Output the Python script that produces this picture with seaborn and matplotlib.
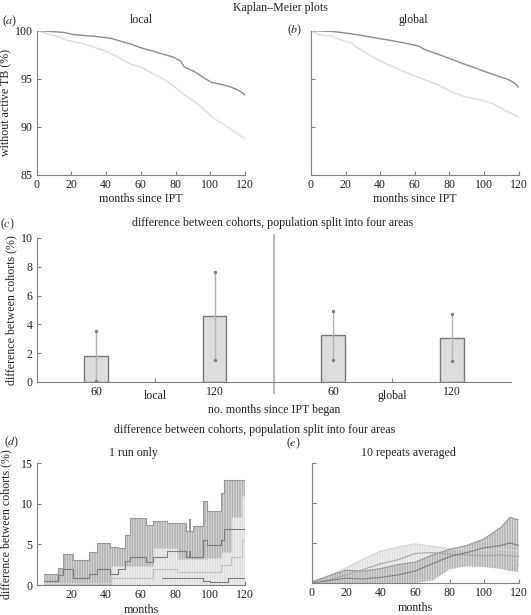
import matplotlib
matplotlib.use("Agg")
import matplotlib.pyplot as plt
import seaborn as sns

# ---- (a)/(b) Kaplan-Meier curves, % without active TB
km_local_dark_t = [0, 15.5, 22, 33, 42.5, 48, 54, 60, 66, 73.5, 79, 83, 85, 91, 97, 100.6, 106, 112, 116, 120]
km_local_dark = [100, 99.8, 99.55, 99.4, 99.2, 98.9, 98.6, 98.2, 97.9, 97.5, 97.2, 96.8, 96.2, 95.7, 95.0, 94.6, 94.4, 94.1, 93.8, 93.3]
km_local_light_t = [0, 6, 11.6, 17, 25, 31, 39, 44, 50, 54, 60, 66, 73.5, 79, 85, 91, 97, 101.5, 106, 112, 116, 120]
km_local_light = [100, 99.7, 99.4, 99.0, 98.7, 98.4, 97.9, 97.5, 96.9, 96.5, 96.2, 95.6, 94.9, 94.2, 93.3, 92.6, 91.7, 90.9, 90.4, 89.7, 89.2, 88.7]
km_global_dark_t = [0, 12, 19.7, 27, 35, 45, 54, 62, 66, 74, 80, 87, 95, 101, 109, 114, 118, 120]
km_global_dark = [100, 99.9, 99.75, 99.55, 99.3, 99.0, 98.7, 98.4, 98.0, 97.5, 97.1, 96.6, 96.1, 95.7, 95.2, 94.9, 94.5, 94.1]
km_global_light_t = [0, 5, 12, 17.8, 23.5, 27, 35, 45, 54, 64, 74, 81.5, 89, 97, 105, 112, 120]
km_global_light = [100, 99.55, 99.4, 99.0, 98.7, 98.2, 97.3, 96.4, 95.7, 95.0, 94.3, 93.6, 93.1, 92.8, 92.4, 91.7, 91.0]

# ---- (c) bar chart
bar_pos = [1, 3, 5, 7]
bar_vals = [1.8, 4.6, 3.25, 3.05]
bar_lo = [0.1, 1.5, 1.55, 1.45]
bar_hi = [3.55, 7.65, 4.95, 4.7]
c_tick_pos = [1, 2, 3, 5, 6, 7]
c_tick_labels = ["60", "", "120", "60", "", "120"]

# ---- (d) 1 run only (step data: value holds until next month listed)
d1_t = [4, 12.5, 15, 21, 30, 34.5, 42, 47, 51, 54, 63, 67, 75, 86, 87.5, 88.5, 90, 96, 98, 106, 108, 120]
d1_mean = [0.5, 1.2, 2.0, 0.9, 1.4, 2.0, 1.4, 2.0, 3.0, 3.5, 2.8, 3.4, 4.2, 3.5, 4.2, 3.5, 3.5, 5.5, 4.9, 5.5, 6.9, 6.9]
d1_hi = [1.36, 2.06, 3.8, 3.1, 4.1, 5.15, 4.7, 4.5, 6.2, 8.2, 7.4, 7.9, 7.6, 6.6, 8.1, 6.6, 7.2, 10.3, 9.05, 11.3, 12.96, 12.96]
d1_lo = [0, 0, 0, 0, 0, 0, 0, 0, 0, 0, 0, 0, 0, 0, 0, 0, 0, 3.0, 3.3, 3.5, 4.1, 4.1]
d2_t = [4, 43, 67, 81, 98, 106, 112, 118, 120]
d2_mean = [0.1, 0.8, 2.0, 1.55, 1.55, 2.5, 3.5, 5.5, 5.5]
d2_hi = [0.3, 2.3, 4.6, 3.2, 3.3, 4.1, 8.4, 11.0, 11.0]
d2_lo = [0, 0, 0, 0, 0, 0, 0, 0, 0]
d3_t = [72, 96, 100, 110, 120]
d3_mean = [0.8, 0.5, 0.4, 0.9, 0.9]

# ---- (e) 10 repeats averaged
e_t = [0, 10, 20, 30, 40, 50, 60, 70, 80, 90, 100, 110, 115, 120]
e1_mean = [0, 0.3, 0.6, 0.5, 0.7, 1.0, 1.5, 2.4, 3.3, 3.8, 4.4, 4.7, 5.0, 4.7]
e1_hi = [0.1, 0.9, 1.6, 1.5, 1.8, 2.3, 2.6, 3.5, 4.2, 4.7, 5.5, 7.0, 8.2, 7.9]
e1_lo = [0, 0, 0, 0, 0, 0, 0, 0.3, 1.7, 2.1, 2.0, 1.75, 1.5, 1.4]
e2_mean = [0, 0.4, 1.0, 1.7, 2.4, 2.9, 3.7, 3.8, 3.6, 3.5, 3.4, 3.5, 3.4, 3.3]
e2_hi = [0.2, 0.9, 1.9, 3.0, 4.0, 4.5, 4.9, 4.6, 4.3, 4.2, 4.1, 4.2, 4.1, 4.0]
e2_lo = [0, 0, 0, 0, 0, 0, 0.4, 1.6, 2.4, 2.6, 2.6, 2.7, 2.6, 2.5]
e3_mean = [0, 0.2, 0.5, 0.8, 1.1, 1.4, 1.7, 2.1, 2.4, 2.6, 2.6, 2.6, 2.5, 2.4]

DARK = "#8c8c8c"
LIGHT = "#dcdcdc"
AXC = "#808080"
TXT = "#222222"
HATCH = "|" * 10

sns.set_style("ticks")
plt.rcParams["font.family"] = ["Liberation Serif", "DejaVu Serif"]
plt.rcParams["mathtext.fontset"] = "stix"
plt.rcParams["font.size"] = 8.6
plt.rcParams["hatch.linewidth"] = 0.5
plt.rcParams["axes.edgecolor"] = AXC
plt.rcParams["axes.linewidth"] = 0.8
plt.rcParams["text.color"] = TXT
plt.rcParams["axes.labelcolor"] = TXT

W, H = 531, 615
fig = plt.figure(figsize=(W / 100, H / 100), dpi=100)


def box(x0, y0, x1, y1):
    # pixel box (top-left origin) -> figure fraction rect
    return [x0 / W, 1 - y1 / H, (x1 - x0) / W, (y1 - y0) / H]


def ftext(x, y, s, **kw):
    fig.text(x / W, 1 - y / H, s, ha="center", va="center", **kw)


def style(ax):
    sns.despine(ax=ax)
    ax.tick_params(direction="in", length=3, width=0.8, color=AXC,
                   labelcolor=TXT, labelsize=8.6, pad=3)


ax_a = fig.add_axes(box(36.7, 30.5, 245, 174.5))
ax_b = fig.add_axes(box(311, 30.5, 518.5, 174.5))
ax_c = fig.add_axes(box(36.7, 238, 511, 382))
ax_d = fig.add_axes(box(36.7, 463, 245, 585))
ax_e = fig.add_axes(box(311.7, 463, 518.5, 583))

# (a) and (b)
for ax, dt, dv, lt, lv in [(ax_a, km_local_dark_t, km_local_dark, km_local_light_t, km_local_light),
                           (ax_b, km_global_dark_t, km_global_dark, km_global_light_t, km_global_light)]:
    sns.lineplot(x=lt, y=lv, ax=ax, color=LIGHT, linewidth=1.0)
    sns.lineplot(x=dt, y=dv, ax=ax, color=DARK, linewidth=1.0)
    ax.set_xlim(0, 120)
    ax.set_ylim(85, 100)
    ax.set_xticks(range(0, 121, 20))
    ax.set_yticks([85, 90, 95, 100])
    style(ax)
    ax.set_xlabel("months since IPT", labelpad=2)
ax_a.set_ylabel("without active TB (%)", labelpad=2)
ax_b.set_yticklabels([])
ax_b.set_ylabel("")

# (c)
ax_c.bar(bar_pos, bar_vals, width=0.4, color="#dddddd", edgecolor="#7a7a7a", linewidth=1.0, zorder=2)
ax_c.vlines(bar_pos, bar_lo, bar_hi, color="#b4b4b4", linewidth=1.0, zorder=3)
ax_c.scatter(bar_pos + bar_pos, bar_lo + bar_hi, s=6, color="#808080", zorder=4, linewidths=0)
ax_c.plot([4, 4], [-0.75, 10.2], color="#bdbdbd", linewidth=1.6, clip_on=False)
ax_c.set_xlim(0, 8)
ax_c.set_ylim(0, 10)
ax_c.set_yticks([0, 2, 4, 6, 8, 10])
ax_c.set_xticks(c_tick_pos)
ax_c.set_xticklabels(c_tick_labels)
style(ax_c)
ax_c.set_ylabel("difference between cohorts (%)", labelpad=2)
ax_c.set_xlabel("no. months since IPT began", labelpad=4)
ax_c.text(2, -0.095, "local", transform=ax_c.get_xaxis_transform(), ha="center", va="center", fontsize=8.6)
ax_c.text(6, -0.095, "global", transform=ax_c.get_xaxis_transform(), ha="center", va="center", fontsize=8.6)

# (d)
ax_d.fill_between(d1_t, d1_lo, d1_hi, step="post", facecolor="#dedede", edgecolor="#9a9a9a", hatch=HATCH, linewidth=0)
sns.lineplot(x=d1_t, y=d1_hi, ax=ax_d, color="#9a9a9a", linewidth=0.8, drawstyle="steps-post")
ax_d.fill_between(d2_t, d2_lo, d2_hi, step="post", facecolor="#f3f3f3", edgecolor="#d2d2d2", hatch=HATCH, linewidth=0)
sns.lineplot(x=d2_t, y=d2_hi, ax=ax_d, color="#d2d2d2", linewidth=0.8, drawstyle="steps-post")
sns.lineplot(x=d1_t, y=d1_mean, ax=ax_d, color="#808080", linewidth=0.8, drawstyle="steps-post")
sns.lineplot(x=d2_t, y=d2_mean, ax=ax_d, color="#c4c4c4", linewidth=0.8, drawstyle="steps-post")
sns.lineplot(x=d3_t, y=d3_mean, ax=ax_d, color="#808080", linewidth=0.8, drawstyle="steps-post")
ax_d.set_xlim(0, 120)
ax_d.set_ylim(0, 15)
ax_d.set_xticks(range(0, 121, 20))
ax_d.set_xticklabels([""] + [str(v) for v in range(20, 121, 20)])
ax_d.set_yticks([0, 5, 10, 15])
style(ax_d)
ax_d.set_xlabel("months", labelpad=2)
ax_d.set_ylabel("difference between cohorts (%)", labelpad=6)

# (e)
ax_e.fill_between(e_t, e2_lo, e2_hi, facecolor="#f3f3f3", edgecolor="#d6d6d6", hatch=HATCH, linewidth=0)
sns.lineplot(x=e_t, y=e2_hi, ax=ax_e, color="#d6d6d6", linewidth=0.8)
ax_e.fill_between(e_t, e1_lo, e1_hi, facecolor="#e2e2e2", edgecolor="#9a9a9a", hatch=HATCH, linewidth=0)
sns.lineplot(x=e_t, y=e1_hi, ax=ax_e, color="#9a9a9a", linewidth=0.8)
sns.lineplot(x=e_t, y=e2_mean, ax=ax_e, color="#a8a8a8", linewidth=0.8)
sns.lineplot(x=e_t, y=e3_mean, ax=ax_e, color="#c8c8c8", linewidth=0.8)
sns.lineplot(x=e_t, y=e1_mean, ax=ax_e, color="#808080", linewidth=0.8)
ax_e.set_xlim(0, 120)
ax_e.set_ylim(0, 15)
ax_e.set_xticks(range(0, 121, 20))
ax_e.set_yticks([0, 5, 10, 15])
ax_e.set_yticklabels([])
style(ax_e)
ax_e.set_xlabel("months", labelpad=2)
ax_e.set_ylabel("")

# headings and panel letters
ftext(280, 8, "Kaplan\u2013Meier plots")
ftext(141, 20, "local")
ftext(413, 20, "global")
ftext(10, 21, r"($a$)")
ftext(295, 30, r"($b$)")
ftext(7, 224, r"($c$)")
ftext(273, 223, "difference between cohorts, population split into four areas")
ftext(255, 430, "difference between cohorts, population split into four areas")
ftext(12, 442, r"($d$)")
ftext(133, 453, "1 run only")
ftext(293, 443, r"($e$)")
ftext(408, 453, "10 repeats averaged")

fig.savefig("out.png", dpi=100)
